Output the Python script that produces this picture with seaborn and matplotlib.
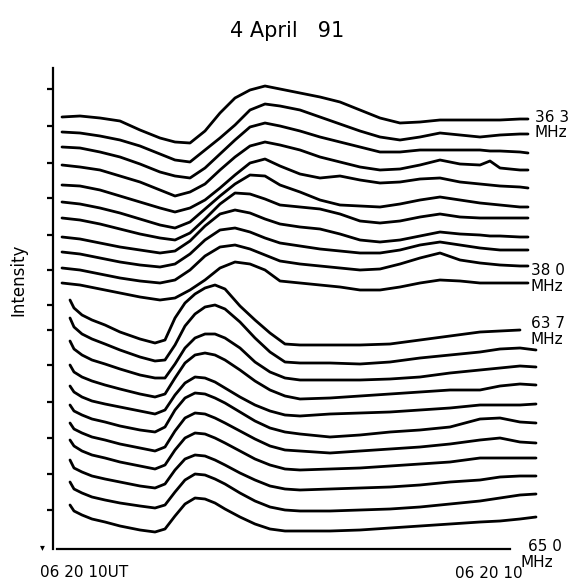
import matplotlib
matplotlib.use("Agg")
import matplotlib.pyplot as plt
import numpy as np
import pandas as pd
import seaborn as sns

sns.set_style("white")
plt.rcParams['font.family'] = ['DejaVu Sans']
plt.rcParams['text.color'] = 'black'

# ---------------- data ----------------
# time samples (arbitrary chart units, left -> right)
t_upper = [62, 80, 100, 120, 140, 160, 175, 190, 205, 220, 235, 250, 265, 280,
           300, 320, 340, 360, 380, 400, 420, 440, 460, 480, 490, 500, 520, 528]
t_lower = [70, 74, 82, 92, 105, 120, 140, 155, 165, 175, 185, 195, 205, 215,
           225, 240, 255, 270, 285, 300, 330, 360, 390, 420, 450, 480, 500, 520, 536]

# upper band 363 -> 380 MHz (values measured downward from top of frame)
u01 = [117, 116, 118, 121, 130, 138, 142, 143, 131, 113, 98, 90, 86, 89, 93, 97, 102, 110, 118, 123, 122, 120, 120, 120, 120, 120, 119, 119]
u02 = [132, 133, 136, 140, 146, 154, 160, 162, 150, 138, 125, 110, 104, 106, 110, 117, 124, 131, 137, 140, 137, 133, 135, 137, 136, 135, 134, 134]
u03 = [147, 148, 152, 157, 164, 172, 176, 178, 168, 154, 140, 127, 123, 126, 131, 137, 142, 147, 152, 152, 150, 150, 150, 150, 151, 151, 152, 153]
u04 = [165, 167, 170, 176, 182, 190, 196, 192, 184, 170, 157, 146, 142, 145, 150, 157, 162, 167, 170, 169, 165, 160, 164, 165, 161, 168, 170, 170]
u05 = [185, 186, 190, 196, 202, 208, 212, 208, 200, 188, 175, 163, 159, 166, 174, 178, 176, 180, 183, 182, 179, 178, 182, 184, 185, 186, 187, 188]
u06 = [202, 204, 208, 213, 219, 225, 228, 222, 209, 196, 184, 175, 176, 185, 192, 200, 205, 206, 207, 204, 200, 197, 200, 203, 204, 205, 207, 207]
u07 = [218, 220, 224, 229, 234, 238, 240, 233, 219, 204, 193, 194, 199, 205, 207, 209, 214, 221, 223, 221, 217, 214, 217, 218, 218, 218, 218, 218]
u08 = [237, 239, 243, 247, 250, 253, 251, 241, 226, 214, 210, 213, 219, 224, 227, 229, 234, 240, 242, 240, 236, 232, 234, 235, 236, 236, 237, 237]
u09 = [252, 254, 258, 262, 265, 267, 264, 254, 240, 230, 228, 232, 238, 243, 246, 249, 251, 253, 253, 250, 245, 242, 245, 248, 249, 250, 250, 250]
u10 = [268, 270, 274, 278, 281, 283, 280, 270, 256, 247, 245, 249, 255, 261, 264, 266, 268, 270, 269, 264, 258, 253, 260, 263, 264, 265, 266, 266]
u11 = [283, 285, 289, 293, 297, 300, 298, 290, 280, 268, 262, 264, 270, 281, 283, 285, 287, 290, 290, 287, 283, 280, 281, 283, 283, 283, 283, 283]

# lower band 637 -> 650 MHz
l01 = [300, 308, 315, 320, 325, 332, 339, 343, 340, 318, 303, 294, 288, 285, 289, 306, 320, 333, 344, 345, 345, 345, 344, 340, 336, 332, 331, 330, np.nan]
l02 = [318, 327, 334, 339, 344, 350, 357, 361, 360, 345, 326, 314, 307, 305, 309, 322, 338, 352, 362, 363, 363, 364, 362, 358, 355, 352, 349, 348, 350]
l03 = [341, 349, 355, 360, 364, 369, 375, 378, 378, 364, 348, 338, 334, 334, 338, 348, 362, 372, 378, 380, 380, 380, 379, 377, 373, 370, 368, 366, 367]
l04 = [365, 372, 377, 381, 385, 389, 394, 397, 394, 378, 363, 355, 353, 355, 360, 370, 381, 390, 396, 399, 398, 396, 394, 392, 390, 390, 386, 384, 385]
l05 = [386, 392, 397, 401, 404, 407, 411, 414, 410, 395, 383, 377, 378, 382, 388, 397, 405, 411, 415, 416, 414, 413, 412, 410, 408, 405, 405, 405, 404]
l06 = [405, 411, 415, 419, 422, 426, 430, 432, 427, 410, 398, 393, 394, 398, 403, 412, 421, 428, 432, 434, 437, 435, 432, 430, 427, 419, 418, 422, 423]
l07 = [423, 429, 433, 437, 440, 444, 448, 451, 447, 431, 418, 413, 414, 418, 423, 431, 439, 446, 450, 451, 453, 451, 449, 447, 444, 440, 438, 442, 443]
l08 = [440, 446, 451, 455, 458, 462, 466, 469, 465, 450, 438, 433, 434, 438, 443, 451, 459, 465, 469, 470, 469, 468, 466, 464, 462, 458, 458, 458, 458]
l09 = [460, 468, 472, 476, 479, 482, 486, 488, 484, 470, 459, 455, 456, 460, 465, 473, 480, 486, 489, 490, 489, 488, 487, 485, 482, 480, 477, 476, 476]
l10 = [482, 489, 493, 497, 500, 503, 506, 508, 505, 492, 480, 474, 475, 479, 484, 493, 501, 507, 510, 511, 511, 510, 509, 507, 504, 501, 498, 495, 494]
l11 = [505, 511, 515, 519, 522, 526, 530, 532, 529, 516, 504, 498, 499, 503, 509, 517, 524, 529, 531, 531, 531, 530, 528, 526, 524, 522, 521, 519, 517]

upper_traces = [u01, u02, u03, u04, u05, u06, u07, u08, u09, u10, u11]
lower_traces = [l01, l02, l03, l04, l05, l06, l07, l08, l09, l10, l11]

y_ticks = [89, 126, 163, 198, 235, 270, 305, 330, 365, 402, 438, 474, 510]

# ---------------- long table ----------------
rows = []
for i, tr in enumerate(upper_traces):
    for t, v in zip(t_upper, tr):
        rows.append(("u%02d" % i, t, v))
for i, tr in enumerate(lower_traces):
    for t, v in zip(t_lower, tr):
        rows.append(("l%02d" % i, t, v))
df = pd.DataFrame(rows, columns=["trace", "t", "level"]).dropna()

# ---------------- figure ----------------
W, H = 575, 588
fig = plt.figure(figsize=(W / 100, H / 100), dpi=100)
ax = fig.add_axes([53 / W, (H - 549) / H, (545 - 53) / W, (549 - 60) / H])

sns.lineplot(data=df, x="t", y="level", units="trace", estimator=None,
             color="black", lw=2.0, sort=False, ax=ax,
             solid_joinstyle="round", solid_capstyle="round")

ax.set_xlim(53, 545)
ax.set_ylim(549, 60)
ax.set_xlabel("")
ax.set_ylabel("")
ax.set_xticks([])
ax.set_yticks(y_ticks)
ax.set_yticklabels([])
ax.tick_params(axis="y", direction="out", length=4, width=1.6, color="black", left=True)
for s in ["top", "right"]:
    ax.spines[s].set_visible(False)
ax.spines["left"].set_bounds(68, 549)
ax.spines["left"].set_linewidth(1.6)
ax.spines["left"].set_color("black")
ax.spines["bottom"].set_bounds(57, 510)
ax.spines["bottom"].set_linewidth(1.6)
ax.spines["bottom"].set_color("black")

fs = 11
kw = dict(fontsize=fs, color="black", clip_on=False, va="center", ha="left")
ax.text(535, 118, "36 3", **kw)
ax.text(535, 133, "MHz", **kw)
ax.text(531, 271, "38 0", **kw)
ax.text(531, 287, "MHz", **kw)
ax.text(531, 324, "63 7", **kw)
ax.text(530, 340, "MHz", **kw)
ax.text(528, 547, "65 0", **kw)
ax.text(520, 563, "MHz", **kw)
ax.text(455, 574, "06 20 10", **kw)
ax.text(40, 573, "06 20 10UT", **kw)
ax.text(42, 547, "\u25be", fontsize=7, color="black", clip_on=False, va="center", ha="center")

fig.text(18 / W, 1 - 280 / H, "Intensity", rotation=90, fontsize=12,
         ha="center", va="center", color="black")
fig.text(287 / W, 1 - 31 / H, "4 April   91", fontsize=15,
         ha="center", va="center", color="black")

fig.savefig("out.png", dpi=100)
